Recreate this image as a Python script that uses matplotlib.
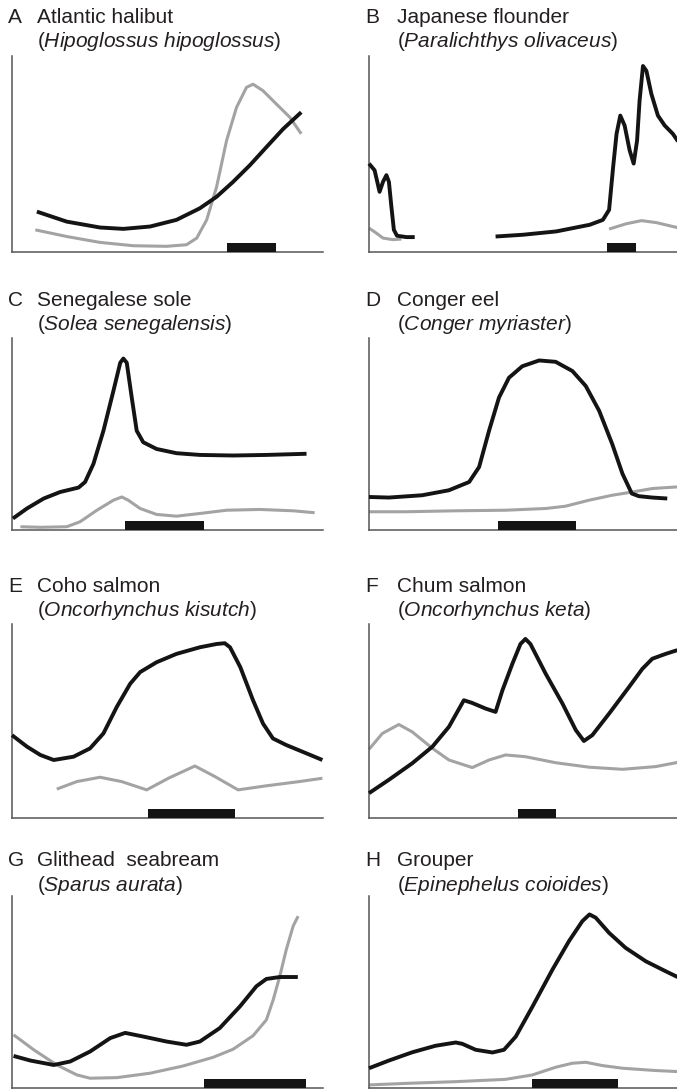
import matplotlib
matplotlib.use("Agg")
import matplotlib.pyplot as plt

plt.rcParams['font.family'] = ['Liberation Sans', 'DejaVu Sans']
plt.rcParams['mathtext.fontset'] = 'custom'
plt.rcParams['mathtext.rm'] = 'Liberation Sans'
plt.rcParams['mathtext.it'] = 'Liberation Sans:italic'

# ---------------- data (x: 0-100 across axis, y: 0-100 up the axis) ----------------
letters = ["A", "B", "C", "D", "E", "F", "G", "H"]
common_names = ["Atlantic halibut", "Japanese flounder", "Senegalese sole", "Conger eel",
                "Coho salmon", "Chum salmon", "Glithead  seabream", "Grouper"]
latin_names = ["Hipoglossus hipoglossus", "Paralichthys olivaceus", "Solea senegalensis",
               "Conger myriaster", "Oncorhynchus kisutch", "Oncorhynchus keta",
               "Sparus aurata", "Epinephelus coioides"]

# A - Atlantic halibut
a_black_x = [8.0, 17.6, 28.3, 35.8, 44.4, 52.9, 60.4, 65.8, 71.1, 76.5, 81.8, 87.2, 93.0]
a_black_y = [20.6, 15.5, 12.5, 11.8, 13.0, 16.4, 22.3, 28.2, 35.8, 44.3, 53.5, 62.8, 71.3]
a_gray_x = [7.5, 17.6, 28.3, 39.0, 49.7, 56.1, 59.4, 62.6, 65.8, 69.0, 72.2, 75.4, 77.5, 80.7, 85.0, 89.3, 93.0]
a_gray_y = [11.3, 7.9, 4.9, 3.2, 2.9, 3.7, 7.1, 16.4, 33.3, 56.9, 73.8, 84.0, 85.6, 82.3, 75.5, 68.8, 60.3]

# B - Japanese flounder (two separate segments for the black and the gray curves)
b_black1_x = [0.0, 1.8, 3.4, 4.5, 5.6, 6.4, 7.2, 8.0, 9.0, 12.0, 14.7]
b_black1_y = [45.1, 41.7, 30.7, 35.8, 39.2, 35.8, 23.1, 11.3, 8.3, 7.6, 7.6]
b_black2_x = [40.7, 49.5, 60.2, 71.0, 75.2, 77.2, 78.5, 79.6, 80.8, 82.2, 83.8, 85.1, 86.2,
              87.0, 88.1, 89.2, 90.8, 92.9, 95.1, 97.7, 99.9]
b_black2_y = [7.9, 8.8, 10.5, 13.9, 16.4, 21.5, 43.4, 60.3, 69.6, 64.5, 51.9, 45.1, 56.9,
              77.2, 94.9, 92.4, 80.6, 69.6, 64.5, 60.3, 55.2]
b_gray1_x = [0.0, 2.4, 4.5, 7.7, 10.4]
b_gray1_y = [12.2, 9.6, 7.1, 6.3, 6.6]
b_gray2_x = [77.2, 82.7, 87.6, 92.4, 97.7, 99.9]
b_gray2_y = [11.7, 14.4, 16.0, 15.0, 13.0, 12.2]

# C - Senegalese sole
c_black_x = [0.3, 4.8, 10.2, 15.5, 21.4, 23.5, 26.2, 29.4, 32.6, 34.8, 35.8, 36.9, 38.5,
             40.1, 42.2, 46.5, 52.9, 60.4, 71.1, 81.8, 94.7]
c_black_y = [6.0, 11.2, 16.4, 19.8, 22.1, 25.0, 34.5, 51.7, 72.4, 87.1, 89.3, 87.1, 69.0,
             51.7, 45.7, 42.2, 40.0, 39.1, 38.8, 39.1, 39.7]
c_gray_x = [2.7, 9.1, 17.6, 21.9, 27.3, 32.6, 35.3, 37.4, 41.2, 46.5, 52.9, 60.4, 69.0, 79.7, 90.4, 97.3]
c_gray_y = [1.7, 1.4, 1.7, 4.3, 10.3, 15.5, 17.2, 15.5, 11.2, 8.1, 7.2, 8.6, 10.3, 10.7, 10.0, 9.0]

# D - Conger eel
d_black_x = [0.0, 6.4, 17.1, 25.7, 32.2, 35.4, 38.6, 41.8, 45.0, 49.3, 54.7, 60.0, 65.4,
             69.7, 74.0, 78.2, 81.5, 84.5, 86.8, 91.1, 95.9]
d_black_y = [17.2, 16.9, 18.1, 20.7, 25.0, 32.8, 51.7, 69.0, 79.3, 85.3, 88.3, 87.6, 82.8,
             75.0, 62.1, 44.8, 29.3, 19.0, 17.6, 16.9, 16.4]
d_gray_x = [0.0, 11.8, 27.9, 43.9, 56.8, 63.2, 70.7, 78.2, 84.7, 91.1, 98.7, 100.0]
d_gray_y = [9.5, 9.5, 10.0, 10.3, 11.2, 12.4, 15.5, 18.1, 19.8, 21.6, 22.4, 22.4]

# E - Coho salmon
e_black_x = [0.0, 4.8, 9.1, 13.4, 19.8, 25.1, 29.4, 33.7, 38.0, 41.2, 46.5, 52.9, 60.4,
             65.8, 68.4, 70.1, 73.4, 77.5, 80.7, 83.9, 88.2, 94.7, 99.8]
e_black_y = [42.7, 36.8, 32.5, 29.9, 31.6, 35.9, 43.6, 57.3, 69.2, 75.2, 80.3, 84.6, 88.0,
             89.7, 90.1, 88.0, 77.8, 60.7, 48.7, 41.0, 37.6, 33.3, 29.9]
e_gray_x = [14.4, 20.9, 28.3, 35.2, 43.3, 50.3, 58.8, 65.2, 72.7, 81.8, 92.5, 99.8]
e_gray_y = [14.9, 18.8, 21.0, 18.8, 14.5, 20.5, 26.8, 21.4, 14.5, 16.6, 18.8, 20.5]

# F - Chum salmon
f_black_x = [0.0, 6.4, 13.9, 20.4, 25.7, 30.5, 33.2, 37.5, 40.7, 42.9, 46.1, 48.7, 50.3,
             51.9, 56.8, 62.2, 66.5, 69.1, 71.8, 77.2, 83.6, 87.9, 91.1, 95.4, 98.7, 100.0]
f_black_y = [12.8, 19.7, 28.2, 36.8, 47.0, 60.7, 59.3, 56.4, 54.7, 65.8, 79.5, 89.7, 92.3,
             89.7, 74.4, 59.0, 45.3, 39.7, 42.7, 53.8, 67.5, 76.9, 82.1, 84.6, 86.3, 86.7]
f_gray_x = [0.0, 4.3, 9.6, 13.9, 20.4, 25.7, 33.2, 38.6, 43.9, 50.3, 60.0, 70.7, 81.5, 92.2, 98.7, 100.0]
f_gray_y = [35.4, 43.6, 48.2, 44.4, 35.9, 29.9, 26.0, 29.9, 32.5, 31.6, 28.5, 26.2, 25.1, 26.5, 28.5, 28.9]

# G - Gilthead seabream
g_black_x = [0.5, 5.9, 13.4, 18.7, 25.1, 31.6, 36.4, 42.2, 49.7, 56.1, 60.4, 66.8, 73.3,
             78.6, 81.8, 86.1, 91.9]
g_black_y = [16.7, 14.3, 12.0, 13.8, 19.0, 26.0, 28.7, 26.8, 24.2, 22.5, 24.2, 31.2, 42.5,
             53.0, 56.8, 57.8, 57.8]
g_gray_x = [0.5, 7.0, 14.4, 20.9, 25.1, 33.7, 44.4, 55.1, 64.7, 71.1, 77.5, 81.8, 84.0,
            86.1, 88.2, 90.4, 92.0]
g_gray_y = [27.7, 19.9, 12.0, 6.8, 5.1, 5.4, 7.7, 11.5, 16.0, 20.2, 27.2, 35.5, 46.0,
            58.2, 72.1, 84.3, 89.5]

# H - Grouper
h_black_x = [0.0, 6.4, 13.9, 21.4, 27.9, 30.0, 34.3, 39.7, 43.4, 47.2, 52.6, 59.0, 64.3,
             68.6, 70.9, 72.9, 77.2, 82.5, 89.0, 95.4, 98.7, 100.0]
h_black_y = [10.3, 14.3, 18.6, 22.0, 23.7, 23.0, 19.9, 18.5, 19.9, 26.8, 42.5, 61.7, 76.5,
             86.9, 90.4, 88.7, 80.8, 73.0, 66.0, 60.8, 58.2, 57.3]
h_gray_x = [0.0, 11.8, 27.9, 43.9, 52.5, 60.0, 65.4, 69.7, 75.0, 81.5, 92.2, 100.0]
h_gray_y = [1.6, 2.4, 3.3, 4.5, 6.8, 10.8, 12.9, 13.4, 11.7, 10.3, 9.1, 8.5]

# black bars on the x axis: (start, end) per panel
bar_start = [69.0, 76.5, 36.4, 41.6, 43.6, 48.0, 61.7, 52.3]
bar_end = [84.8, 86.0, 61.7, 66.7, 71.7, 60.2, 94.4, 80.2]

black_curves = [
    [(a_black_x, a_black_y)],
    [(b_black1_x, b_black1_y), (b_black2_x, b_black2_y)],
    [(c_black_x, c_black_y)],
    [(d_black_x, d_black_y)],
    [(e_black_x, e_black_y)],
    [(f_black_x, f_black_y)],
    [(g_black_x, g_black_y)],
    [(h_black_x, h_black_y)],
]
gray_curves = [
    [(a_gray_x, a_gray_y)],
    [(b_gray1_x, b_gray1_y), (b_gray2_x, b_gray2_y)],
    [(c_gray_x, c_gray_y)],
    [(d_gray_x, d_gray_y)],
    [(e_gray_x, e_gray_y)],
    [(f_gray_x, f_gray_y)],
    [(g_gray_x, g_gray_y)],
    [(h_gray_x, h_gray_y)],
]

# ---------------- layout (pixels) ----------------
W, H = 677, 1091
col_axes_x = [(12, 323), (369, 680)]
col_letter_x = [8, 365]
col_name_x = [37, 397]
row_axes_y = [(56, 252), (338, 530), (624, 818), (896, 1088)]
row_text_base = [(23, 47), (306, 330), (592, 616), (866, 891)]

BLACK = "#141414"
GRAY = "#a3a3a3"
SPINE = "#555555"
TEXT = "#231f20"
FS = 15

fig = plt.figure(figsize=(W / 100, H / 100), dpi=100)

for i in range(8):
    r, c = divmod(i, 2)
    x0, x1 = col_axes_x[c]
    yt, yb = row_axes_y[r]
    ax = fig.add_axes([x0 / W, 1 - yb / H, (x1 - x0) / W, (yb - yt) / H])
    ax.set_xlim(0, 100)
    ax.set_ylim(0, 100)
    for s in ("top", "right"):
        ax.spines[s].set_visible(False)
    for s in ("left", "bottom"):
        ax.spines[s].set_color(SPINE)
        ax.spines[s].set_linewidth(1.1)
    ax.set_xticks([])
    ax.set_yticks([])
    ax.patch.set_alpha(0)

    for xs, ys in gray_curves[i]:
        ax.plot(xs, ys, color=GRAY, lw=2.2, solid_joinstyle="round",
                solid_capstyle="butt", clip_on=False, zorder=2)
    for xs, ys in black_curves[i]:
        ax.plot(xs, ys, color=BLACK, lw=2.8, solid_joinstyle="round",
                solid_capstyle="butt", clip_on=False, zorder=3)
    ax.bar([bar_start[i]], [4.6], width=[bar_end[i] - bar_start[i]], bottom=0,
           align="edge", color=BLACK, zorder=4, clip_on=False)

    b1, b2 = row_text_base[r]
    fig.text(col_letter_x[c] / W, 1 - b1 / H, letters[i], fontsize=FS,
             va="baseline", ha="left", color=TEXT)
    fig.text(col_name_x[c] / W, 1 - b1 / H, common_names[i], fontsize=FS,
             va="baseline", ha="left", color=TEXT)
    latin = latin_names[i].replace(" ", r"\ ")
    fig.text(col_name_x[c] / W, 1 - b2 / H, "(" + r"$\mathit{" + latin + "}$" + ")",
             fontsize=FS, va="baseline", ha="left", color=TEXT)

fig.savefig("out.png", dpi=100)
